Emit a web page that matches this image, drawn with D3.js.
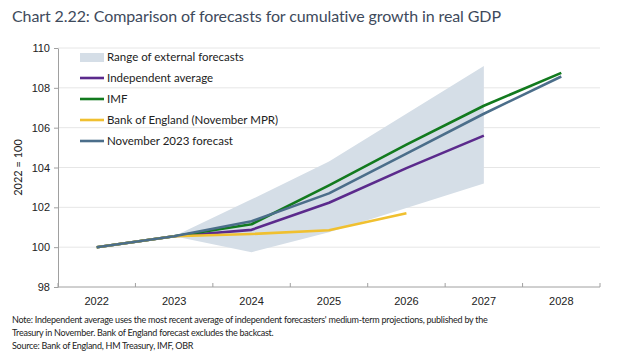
<html>
<head>
<script src="https://d3js.org/d3.v7.min.js"></script>
<style>
  body { margin: 0; background: #fff; }
  svg { font-family: Lato, "Noto Sans", sans-serif; }
  .grid line { stroke: #e6e6e6; }
  .axis path, .axis line { stroke: #a0a0a0; }
  .axis text { fill: #222; font-size: 11px; }
</style>
</head>
<body>
<div id="chart"></div>
<script>
// chart values
var years = ["2022", "2023", "2024", "2025", "2026", "2027", "2028"];
var rangeLow  = [null, 100.55, 99.75, 100.75, 101.97, 103.2, null];
var rangeHigh = [null, 100.55, 102.4, 104.3, 106.7, 109.1, null];
var independent = [100, 100.55, 100.87, 102.23, 103.97, 105.6, null];
var imf = [100, 100.55, 101.15, 103.1, 105.15, 107.1, 108.75];
var boe = [100, 100.55, 100.66, 100.85, 101.7, null, null];
var obr = [100, 100.55, 101.3, 102.7, 104.7, 106.7, 108.57];
var yTicks = [98, 100, 102, 104, 106, 108, 110];

var series = [
  { name: "Independent average", values: independent, color: "#5b2a8c" },
  { name: "IMF", values: imf, color: "#127a1e" },
  { name: "Bank of England (November MPR)", values: boe, color: "#f0c030" },
  { name: "November 2023 forecast", values: obr, color: "#4b6e8a" }
];

var width = 634, height = 364;
var mLeft = 58, mRight = 600, mTop = 48, mBottom = 287;

var svg = d3.select("#chart").append("svg")
  .attr("width", width)
  .attr("height", height);

var x = d3.scaleBand().domain(years).range([mLeft, mRight]);
var y = d3.scaleLinear().domain([98, 110]).range([mBottom, mTop]);
var cx = function(yr) { return x(yr) + x.bandwidth() / 2; };

/* title */
svg.append("text")
  .attr("x", 12).attr("y", 22)
  .attr("fill", "#3e4a5c")
  .style("font-size", "16px")
  .style("letter-spacing", "-0.1px")
  .text("Chart 2.22: Comparison of forecasts for cumulative growth in real GDP");

/* gridlines */
svg.append("g").attr("class", "grid")
  .selectAll("line")
  .data(yTicks.slice(1)).enter()
  .append("line")
  .attr("x1", mLeft).attr("x2", mRight)
  .attr("y1", d => y(d)).attr("y2", d => y(d));

/* range band */
var band = years.map((yr, i) => ({ yr: yr, lo: rangeLow[i], hi: rangeHigh[i] }))
  .filter(d => d.lo != null);
svg.append("path")
  .datum(band)
  .attr("fill", "#d5dee7")
  .attr("d", d3.area()
    .x(d => cx(d.yr))
    .y0(d => y(d.lo))
    .y1(d => y(d.hi)));

/* lines */
var line = d3.line()
  .defined(d => d.v != null)
  .x(d => cx(d.yr))
  .y(d => y(d.v));

svg.append("g").selectAll("path")
  .data(series).enter()
  .append("path")
  .attr("fill", "none")
  .attr("stroke", d => d.color)
  .attr("stroke-width", 2.6)
  .attr("stroke-linejoin", "round")
  .attr("d", d => line(years.map((yr, i) => ({ yr: yr, v: d.values[i] }))));

/* axes */
var xAxis = svg.append("g").attr("class", "axis")
  .attr("transform", "translate(0," + mBottom + ")")
  .call(d3.axisBottom(x).tickSize(0).tickPadding(10));
xAxis.select(".domain").attr("d", "M" + mLeft + ",0H" + mRight);
// ticks at band edges, pointing up
xAxis.selectAll(".edge")
  .data(years.concat(["end"])).enter()
  .append("line")
  .attr("class", "edge")
  .attr("x1", (d, i) => mLeft + i * x.step())
  .attr("x2", (d, i) => mLeft + i * x.step())
  .attr("y1", 0).attr("y2", -4);

svg.append("g").attr("class", "axis")
  .attr("transform", "translate(" + mLeft + ",0)")
  .call(d3.axisLeft(y).tickValues(yTicks).tickSize(4).tickPadding(4).tickSizeOuter(0));

svg.append("text")
  .attr("transform", "translate(22," + y(104) + ") rotate(-90)")
  .attr("text-anchor", "middle")
  .style("font-size", "11px")
  .attr("fill", "#222")
  .text("2022 = 100");

/* legend */
var legend = svg.append("g").attr("transform", "translate(80,57)");
legend.append("rect")
  .attr("x", 0).attr("y", -4).attr("width", 24).attr("height", 9)
  .attr("fill", "#d5dee7");
legend.append("text")
  .attr("x", 27).attr("y", 4)
  .style("font-size", "11.5px").attr("fill", "#222")
  .text("Range of external forecasts");
var items = legend.selectAll(".item")
  .data(series).enter()
  .append("g")
  .attr("transform", (d, i) => "translate(0," + (21 * (i + 1)) + ")");
items.append("line")
  .attr("x1", 0).attr("x2", 24)
  .attr("stroke", d => d.color).attr("stroke-width", 2.6);
items.append("text")
  .attr("x", 27).attr("y", 4)
  .style("font-size", "11.5px").attr("fill", "#222")
  .text(d => d.name);

/* notes */
var notes = [
  "Note: Independent average uses the most recent average of independent forecasters' medium-term projections, published by the",
  "Treasury in November. Bank of England forecast excludes the backcast.",
  "Source: Bank of England, HM Treasury, IMF, OBR"
];
svg.append("g").selectAll("text")
  .data(notes).enter()
  .append("text")
  .attr("x", 12)
  .attr("y", (d, i) => 323 + i * 13)
  .style("font-size", "9px")
  .style("letter-spacing", "-0.25px")
  .attr("fill", "#222")
  .text(d => d);
</script>
</body>
</html>
